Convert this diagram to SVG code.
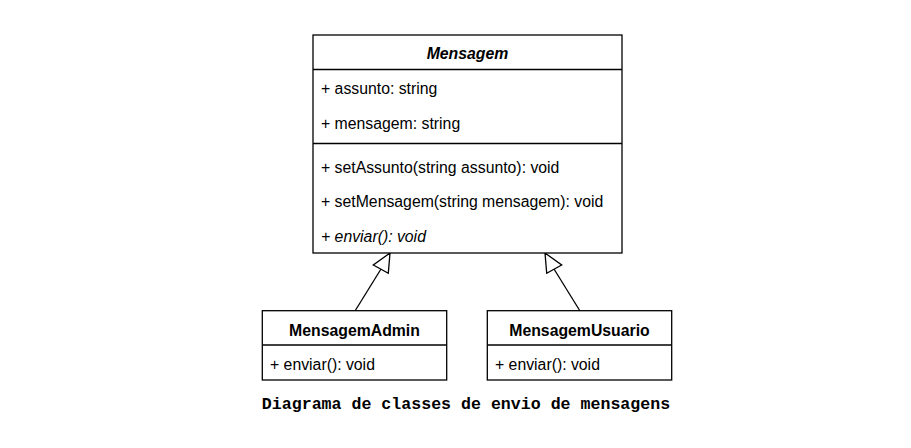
<svg xmlns="http://www.w3.org/2000/svg" width="911" height="448" viewBox="0 0 911 448">
<style>
.box{fill:#fff;stroke:#000;stroke-width:1.3}
.ln{stroke:#000;stroke-width:1.3;fill:none}
.t{font-family:"Liberation Sans",Arial,sans-serif;font-size:15.8px;fill:#000}
.b{font-weight:bold}
.c{text-anchor:middle}
.i{font-style:italic}
.cap{font-family:"Liberation Mono","Courier New",monospace;font-size:16.6px;font-weight:bold;text-anchor:middle;fill:#000}
</style>
<rect width="911" height="448" fill="#fff"/>
<g id="connectors">
<line class="ln" x1="355" y1="311" x2="381" y2="269"/>
<polygon class="box" points="390,253 373.3,265 388.3,273.3"/>
<line class="ln" x1="580" y1="311" x2="554" y2="269"/>
<polygon class="box" points="545,253 546.7,273.3 561.7,265"/>
</g>
<g id="Mensagem">
<rect class="box" x="313" y="35" width="309" height="218"/>
<line class="ln" x1="313" y1="69.5" x2="622" y2="69.5"/>
<line class="ln" x1="313" y1="143.5" x2="622" y2="143.5"/>
<text class="t b i c" x="467.5" y="59">Mensagem</text>
<text class="t" x="321" y="94">+ assunto: string</text>
<text class="t" x="321" y="128.5">+ mensagem: string</text>
<text class="t" x="321" y="172.5">+ setAssunto(string assunto): void</text>
<text class="t" x="321" y="207">+ setMensagem(string mensagem): void</text>
<text class="t i" x="321" y="241.5">+ enviar(): void</text>
</g>
<g id="MensagemAdmin">
<rect class="box" x="262.3" y="310.7" width="184.4" height="69.3"/>
<line class="ln" x1="262.3" y1="345" x2="446.7" y2="345"/>
<text class="t b c" x="354.5" y="335.5">MensagemAdmin</text>
<text class="t" x="270" y="369.5">+ enviar(): void</text>
</g>
<g id="MensagemUsuario">
<rect class="box" x="487.3" y="310.7" width="184.4" height="69.3"/>
<line class="ln" x1="487.3" y1="345" x2="671.7" y2="345"/>
<text class="t b c" x="579.5" y="335.5">MensagemUsuario</text>
<text class="t" x="495" y="369.5">+ enviar(): void</text>
</g>
<text class="cap" x="466" y="409">Diagrama de classes de envio de mensagens</text>
</svg>
